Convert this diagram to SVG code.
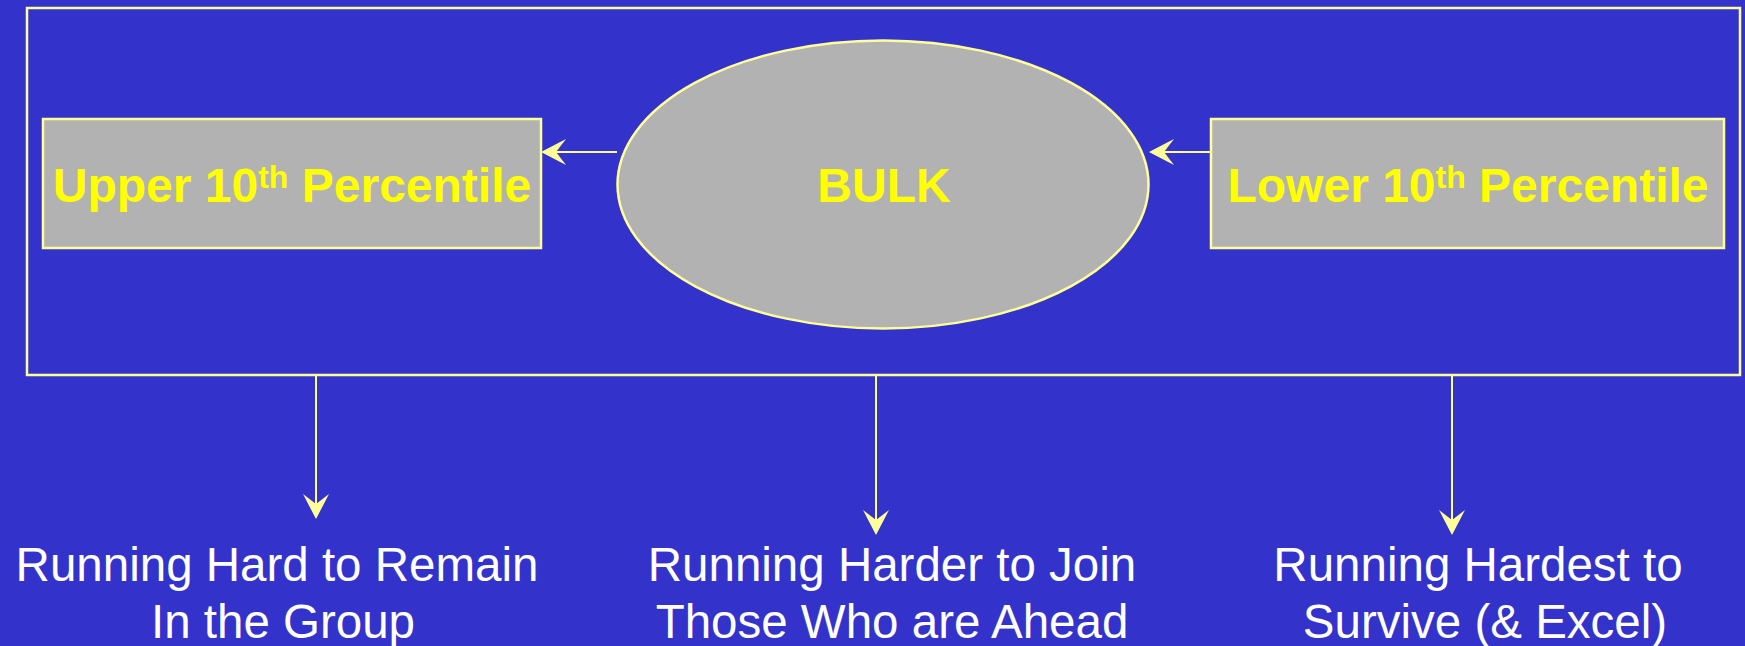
<svg xmlns="http://www.w3.org/2000/svg" width="1745" height="646" viewBox="0 0 1745 646">
  <style>
    .frame { fill: none; stroke: #FFFF99; stroke-width: 2.5; }
    .box { fill: #B2B2B2; stroke: #FFFF99; stroke-width: 2.5; }
    .title { font-family: "Liberation Sans", Arial, sans-serif; font-weight: bold; font-size: 48px; fill: #FFFF00; text-anchor: middle; }
    .sup { font-size: 32px; }
    .note { font-family: "Liberation Sans", Arial, sans-serif; font-size: 47.5px; fill: #FFFFFF; text-anchor: middle; }
    .link { stroke: #FFFF99; stroke-width: 2; fill: none; marker-end: url(#head); }
  </style>
  <defs>
    <marker id="head" markerUnits="userSpaceOnUse" markerWidth="30" markerHeight="30" refX="-15" refY="0" orient="auto" overflow="visible">
      <path d="M0,0 L-25,-13 L-15,0 L-25,13 Z" fill="#FFFF99"/>
    </marker>
  </defs>

  <rect width="1745" height="646" fill="#3333CC"/>

  <g id="population">
    <rect class="frame" x="27" y="8" width="1713" height="367"/>
  </g>

  <g id="upper">
    <rect class="box" x="43" y="119" width="498" height="129"/>
    <text class="title" x="292" y="202">Upper 10<tspan class="sup" dy="-14">th</tspan><tspan dy="14"> Percentile</tspan></text>
  </g>

  <g id="bulk">
    <ellipse class="box" cx="883" cy="184.5" rx="265.5" ry="144"/>
    <text class="title" x="884" y="202">BULK</text>
  </g>

  <g id="lower">
    <rect class="box" x="1211" y="119" width="513" height="129"/>
    <text class="title" x="1468" y="202">Lower 10<tspan class="sup" dy="-14">th</tspan><tspan dy="14"> Percentile</tspan></text>
  </g>

  <g id="remain">
    <text class="note" x="277" y="581">Running Hard to Remain</text>
    <text class="note" x="283" y="638">In the Group</text>
  </g>

  <g id="join">
    <text class="note" x="892" y="581">Running Harder to Join</text>
    <text class="note" x="892" y="638">Those Who are Ahead</text>
  </g>

  <g id="survive">
    <text class="note" x="1478" y="581">Running Hardest to</text>
    <text class="note" x="1485" y="638">Survive (&amp; Excel)</text>
  </g>

  <g id="connectors">
    <line class="link" x1="617" y1="152" x2="556" y2="152"/>
    <line class="link" x1="1211" y1="152" x2="1164" y2="152"/>
    <line class="link" x1="316" y1="376" x2="316" y2="504"/>
    <line class="link" x1="876" y1="376" x2="876" y2="520"/>
    <line class="link" x1="1452" y1="376" x2="1452" y2="520"/>
  </g>
</svg>
